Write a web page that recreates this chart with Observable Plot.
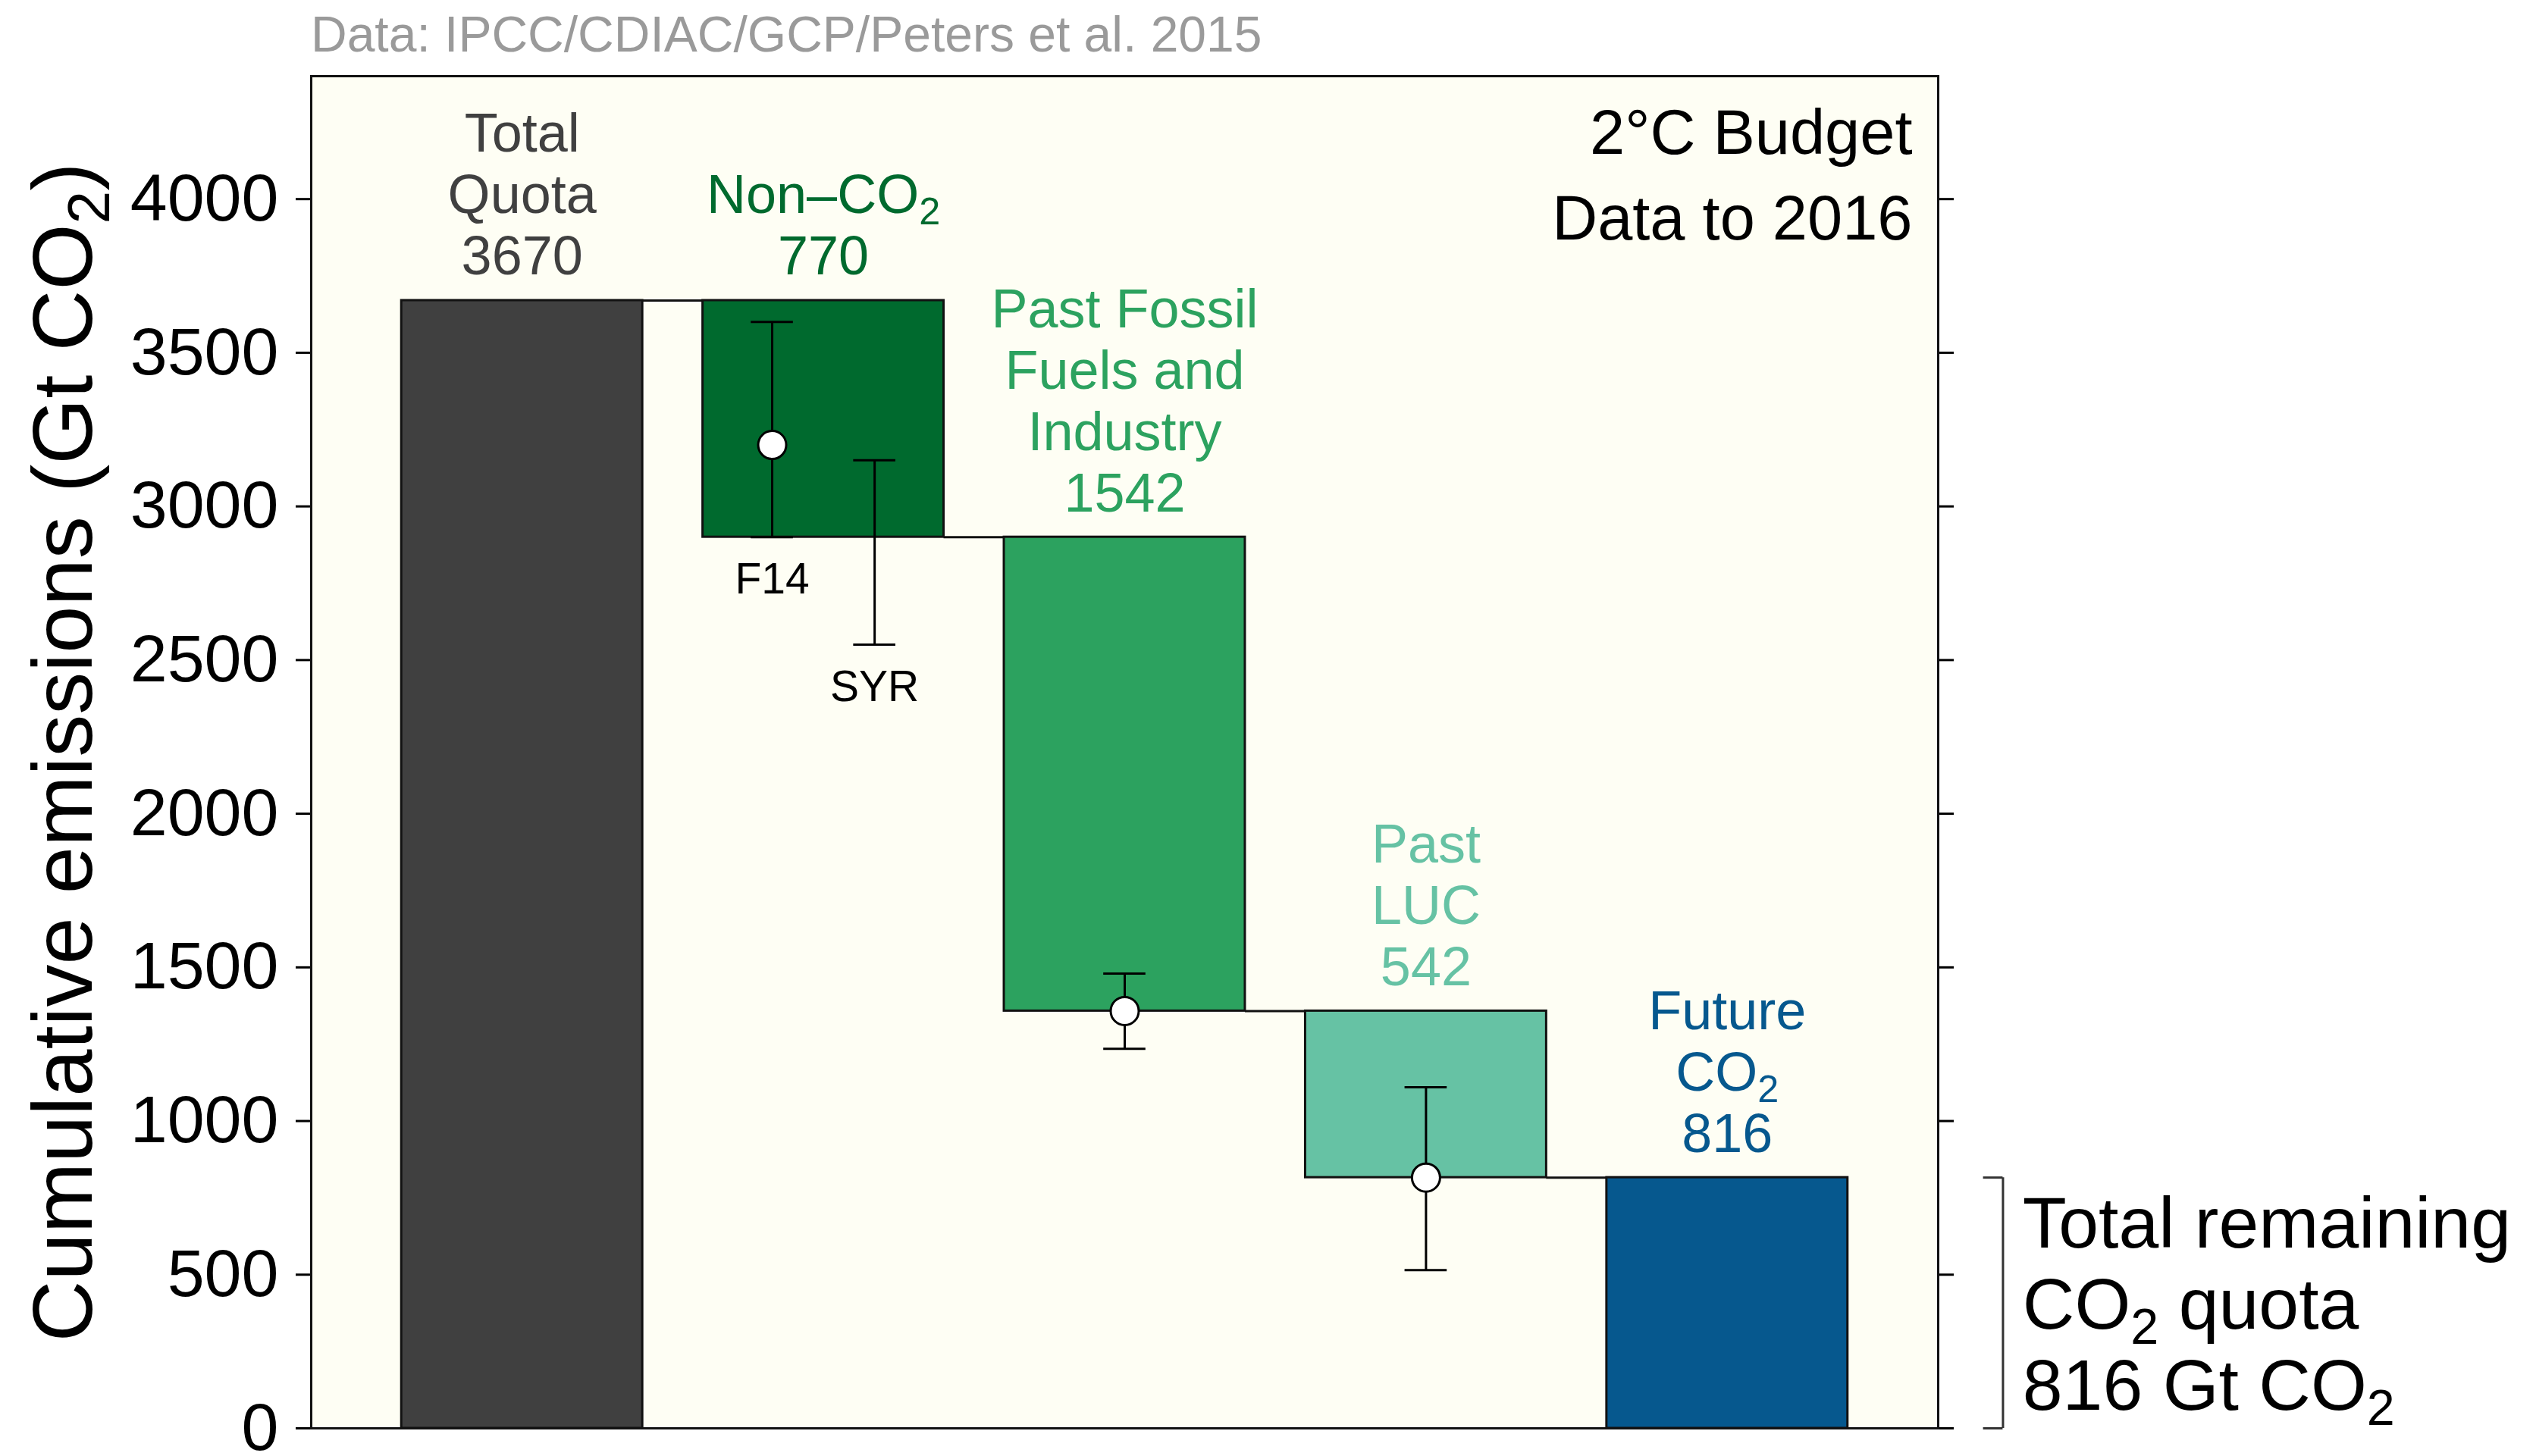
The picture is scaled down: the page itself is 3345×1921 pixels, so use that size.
<!DOCTYPE html>
<html>
<head>
<meta charset="utf-8">
<script src="https://cdn.jsdelivr.net/npm/d3@7"></script>
<script src="https://cdn.jsdelivr.net/npm/@observablehq/plot@0.6"></script>
<style>
  html, body { margin: 0; padding: 0; background: #ffffff; overflow: hidden; }
  body { font-family: "Liberation Sans", Arial, Helvetica, sans-serif; }
  #caption { height: 90px; line-height: 90px; padding-left: 410px; font-size: 66px; color: #9a9a9a; white-space: nowrap; }
  #chart svg { display: block; }
</style>
</head>
<body>
<div id="caption">Data: IPCC/CDIAC/GCP/Peters et al. 2015</div>
<div id="chart"></div>
<script>
// ---- data ----
const categories = ["Total Quota", "Non–CO₂", "Past Fossil Fuels and Industry", "Past LUC", "Future CO₂"];
const amounts = [3670, 770, 1542, 542, 816];
const barLabels = ["Total\nQuota\n3670", "Non–CO₂\n770", "Past Fossil\nFuels and\nIndustry\n1542", "Past\nLUC\n542", "Future\nCO₂\n816"];
const colors = ["#404040", "#006a2e", "#2ca25f", "#66c2a4", "#06588e"];
const yTicks = [0, 500, 1000, 1500, 2000, 2500, 3000, 3500, 4000];

// uncertainty ranges drawn on the bars
const errNames = ["F14", "SYR", "", ""];
const errBar = [2, 2, 3, 4];            // which bar (1-based)
const errShift = [-0.17, 0.17, 0, 0];   // side-by-side placement inside the bar
const errCentral = [3200, null, 1358, 816];
const errLow = [2900, 2550, 1235, 515];
const errHigh = [3600, 3150, 1480, 1110];

const budgetLabel = "2°C Budget\nData to 2016";
const remainingLabel = "Total remaining\nCO₂ quota\n816 Gt CO₂";
const remainingValue = 816;
const yLabel = "Cumulative emissions (Gt CO₂)";

// ---- derived tables ----
let level = amounts[0];
const bars = categories.map((c, k) => {
  let bottom, top;
  if (k === 0) { bottom = 0; top = amounts[0]; }
  else if (k === categories.length - 1) { bottom = 0; top = amounts[k]; }
  else { top = level; level -= amounts[k]; bottom = level; }
  return {category: c, i: k + 1, top, bottom, label: barLabels[k]};
});
const connectors = bars.slice(0, -1).map((b, k) => ({
  y: bars[k + 1].top, x1: b.i + 0.4, x2: bars[k + 1].i - 0.4
}));
const errs = errNames.map((n, k) => ({
  name: n, x: errBar[k] + errShift[k], c: errCentral[k], lo: errLow[k], hi: errHigh[k]
}));
const caps = errs.flatMap(d => [{x: d.x, y: d.lo}, {x: d.x, y: d.hi}]);
const capHalf = 0.07;
const bracketX = bars[bars.length - 1].i + 0.915;

const chart = Plot.plot({
  width: 3345,
  height: 1831,
  marginTop: 10,
  marginBottom: 37,
  marginLeft: 410,
  marginRight: 789,
  style: {fontFamily: "'Liberation Sans', Arial, Helvetica, sans-serif", color: "black", background: "transparent", overflow: "visible"},
  x: {domain: [0.3, 5.7], axis: null},
  y: {domain: [0, 4400], axis: null},
  color: {domain: categories, range: colors},
  marks: [
    Plot.frame({fill: "#fefef4", stroke: null}),
    Plot.ruleY(connectors, {y: "y", x1: "x1", x2: "x2", stroke: "#111", strokeWidth: 3}),
    Plot.rectY(bars, {x1: d => d.i - 0.4, x2: d => d.i + 0.4, y1: "bottom", y2: "top", fill: "category", stroke: "#111", strokeWidth: 3}),
    Plot.text(bars, {x: "i", y: "top", text: "label", fill: "category", lineAnchor: "bottom", dy: -34, fontSize: 72, lineHeight: 1.125}),
    // uncertainty bars
    Plot.ruleX(errs, {x: "x", y1: "lo", y2: "hi", stroke: "#000", strokeWidth: 3}),
    Plot.ruleY(caps, {y: "y", x1: d => d.x - capHalf, x2: d => d.x + capHalf, stroke: "#000", strokeWidth: 3}),
    Plot.dot(errs.filter(d => d.c != null), {x: "x", y: "c", r: 18.5, fill: "white", stroke: "#000", strokeWidth: 3}),
    Plot.text(errs.filter(d => d.name), {x: "x", y: "lo", text: "name", dy: 56, fontSize: 57, fill: "#000"}),
    // budget note
    Plot.text([budgetLabel], {frameAnchor: "top-right", textAnchor: "end", lineAnchor: "top", dx: -34, dy: 22, fontSize: 83, lineHeight: 1.36, fill: "#000"}),
    // axes
    Plot.axisY({anchor: "left", ticks: yTicks, tickSize: 20, tickPadding: 23, fontSize: 88, tickFormat: d3.format("d"), label: null, strokeWidth: 3}),
    Plot.axisY({anchor: "right", ticks: yTicks, tickSize: 20, tickFormat: () => "", label: null, strokeWidth: 3}),
    Plot.text([yLabel], {frameAnchor: "left", textAnchor: "middle", lineAnchor: "middle", rotate: -90, dx: -325, fontSize: 112, fill: "#000"}),
    // remaining quota bracket
    Plot.ruleX([remainingValue], {x: bracketX, y1: 0, y2: d => d, stroke: "#333", strokeWidth: 3}),
    Plot.ruleY([0, remainingValue], {y: d => d, x1: bracketX - 0.065, x2: bracketX, stroke: "#333", strokeWidth: 3}),
    Plot.text([remainingLabel], {x: bracketX + 0.065, y: remainingValue / 2, textAnchor: "start", lineAnchor: "middle", fontSize: 95, lineHeight: 1.126, fill: "#000"}),
    Plot.frame({stroke: "#111", strokeWidth: 3})
  ]
});

// render "₂" as a real subscript 2
function subscriptify(root) {
  const walker = document.createTreeWalker(root, NodeFilter.SHOW_TEXT);
  const nodes = [];
  while (walker.nextNode()) if (walker.currentNode.nodeValue.includes("₂")) nodes.push(walker.currentNode);
  for (const node of nodes) {
    const parts = node.nodeValue.split("₂");
    const frag = document.createDocumentFragment();
    parts.forEach((p, k) => {
      if (k > 0) {
        const t = document.createElementNS("http://www.w3.org/2000/svg", "tspan");
        t.setAttribute("font-size", "70%");
        t.setAttribute("baseline-shift", "-30%");
        t.textContent = "2";
        frag.appendChild(t);
      }
      if (p) frag.appendChild(document.createTextNode(p));
    });
    node.parentNode.replaceChild(frag, node);
  }
}
subscriptify(chart);
document.getElementById("chart").appendChild(chart);
</script>
</body>
</html>
